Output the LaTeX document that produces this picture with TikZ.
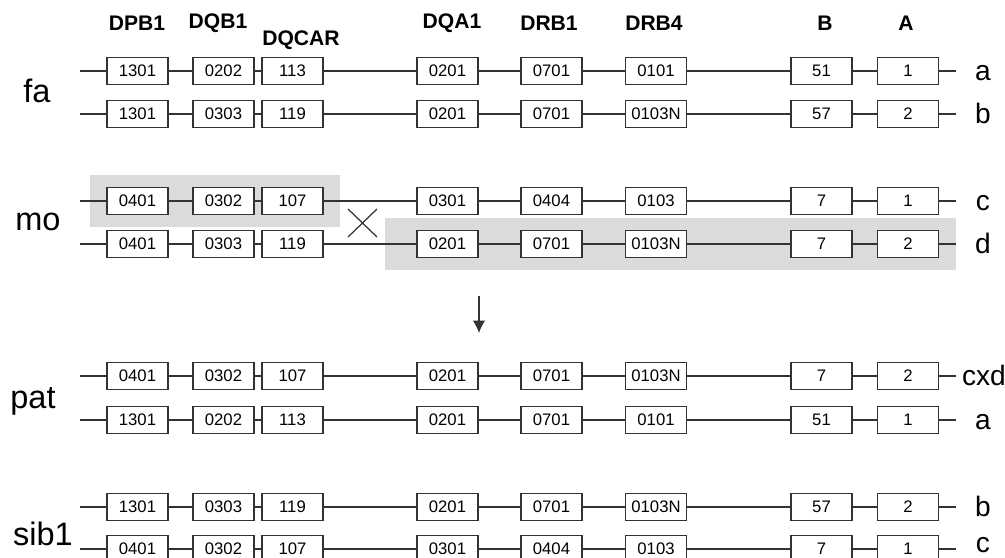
\documentclass[tikz,border=0pt]{standalone}
\usepackage{fontspec}
\setmainfont{Liberation Sans}
\usetikzlibrary{arrows.meta}

\tikzset{
  allele/.style={draw=black!80,line width=0.7pt,fill=white,minimum width=1.22cm,
    minimum height=0.54cm,inner sep=0pt,font=\fontsize{9.5}{10}\selectfont},
  locus/.style={font=\bfseries\fontsize{12}{14}\selectfont},
  who/.style={anchor=base,inner sep=0pt,font=\fontsize{18.5}{20}\selectfont},
  hap/.style={anchor=base,inner sep=0pt,font=\fontsize{16}{18}\selectfont},
  strand/.style={draw=black!80,line width=0.7pt},
  crossed/.style={fill=black!14}
}

% x positions of the eight loci
\def\colx{{137.5,223.5,292.5,447.5,551.5,656,821.5,908}}

% one haplotype: name, y, eight alleles
\newcommand{\haplo}[3]{
  \coordinate (#1s) at (80,#2);
  \coordinate (#1e) at (956,#2);
  \foreach \v [count=\i] in {#3} {
    \pgfmathsetmacro{\xx}{\colx[\i-1]}
    \node[allele] (#1-\i) at (\xx,#2) {\v};
  }
  \draw[strand] (#1s) -- (#1-1) -- (#1-2) -- (#1-3) -- (#1-4) -- (#1-5) -- (#1-6) -- (#1-7) -- (#1-8) -- (#1e);
}

\begin{document}
\begin{tikzpicture}[x=0.02cm,y=-0.02cm]
  \useasboundingbox (0,0) rectangle (1005,558);

  % recombination parts
  \fill[crossed] (90,175) rectangle (340,227);
  \fill[crossed] (385,218) rectangle (956,270);

  % loci
  \node[locus] (DPB1) at (137,23) {DPB1};
  \node[locus] (DQB1) at (218,23) {DQB1};
  \node[locus] (DQCAR) at (301,40) {DQCAR};
  \node[locus] (DQA1) at (452,23) {DQA1};
  \node[locus] (DRB1) at (549,23) {DRB1};
  \node[locus] (DRB4) at (654,23) {DRB4};
  \node[locus] (B) at (825,23) {B};
  \node[locus] (A) at (906,23) {A};

  % haplotypes
  \haplo{fa}{71}{1301,0202,113,0201,0701,0101,51,1}
  \haplo{fb}{114}{1301,0303,119,0201,0701,0103N,57,2}
  \haplo{mc}{201}{0401,0302,107,0301,0404,0103,7,1}
  \haplo{md}{244}{0401,0303,119,0201,0701,0103N,7,2}
  \haplo{pc}{376}{0401,0302,107,0201,0701,0103N,7,2}
  \haplo{pa}{420}{1301,0202,113,0201,0701,0101,51,1}
  \haplo{sb}{507}{1301,0303,119,0201,0701,0103N,57,2}
  \haplo{sc}{549}{0401,0302,107,0301,0404,0103,7,1}

  % individuals
  \node[who] (fa) at (37,102) {fa};
  \node[who] (mo) at (38,230) {mo};
  \node[who] (pat) at (33,408) {pat};
  \node[who] (sib) at (43,545) {sib1};

  % haplotype letters
  \node[hap] (la) at (983,80) {a};
  \node[hap] (lb) at (983,123) {b};
  \node[hap] (lc) at (983,210) {c};
  \node[hap] (ld) at (983,253) {d};
  \node[hap] (lcxd) at (984,385) {cxd};
  \node[hap] (la2) at (983,429) {a};
  \node[hap] (lb2) at (983,516) {b};
  \node[hap] (lc2) at (983,552) {c};

  % crossover
  \draw[strand] (348,209) -- (377,237) (348,237) -- (377,209);
  \coordinate (down1) at (479,296);
  \coordinate (down2) at (479,333);
  \draw[strand,-{Latex[length=7pt,width=7pt]}] (down1) -- (down2);
\end{tikzpicture}
\end{document}
